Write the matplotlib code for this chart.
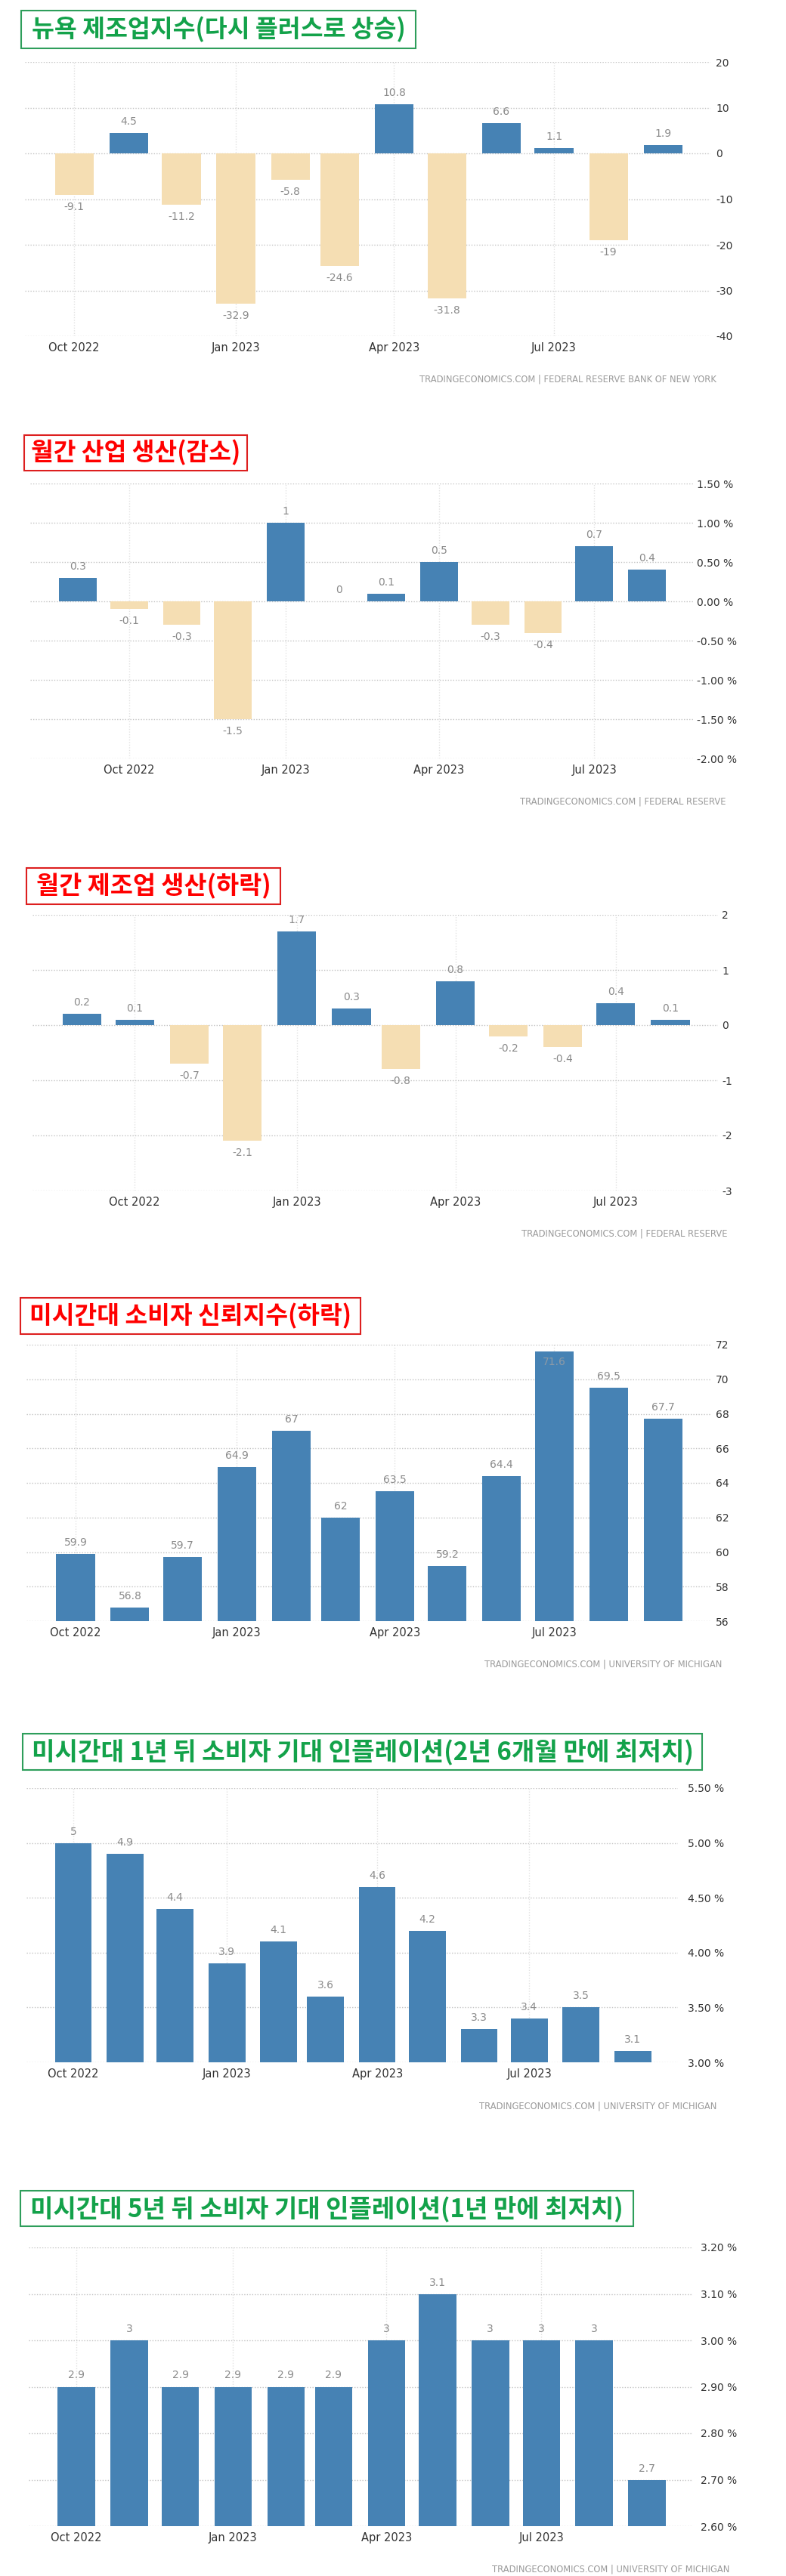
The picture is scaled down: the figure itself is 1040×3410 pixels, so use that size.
"""
plot.py

Six TradingEconomics-style bar panels (US manufacturing / Michigan survey),
stacked in one tall picture with Korean titles in coloured boxes.
"""

import numpy as np
import pandas as pd
import matplotlib
matplotlib.use("Agg")
import matplotlib.pyplot as plt
import matplotlib.dates as mdates
from matplotlib.patches import Rectangle


# ==========================================================
# DATA
# ==========================================================

MONTHS_OCT = ["2022-10", "2022-11", "2022-12", "2023-01", "2023-02", "2023-03",
              "2023-04", "2023-05", "2023-06", "2023-07", "2023-08", "2023-09"]
MONTHS_SEP = ["2022-09", "2022-10", "2022-11", "2022-12", "2023-01", "2023-02",
              "2023-03", "2023-04", "2023-05", "2023-06", "2023-07", "2023-08"]

NY_EMPIRE = [-9.1, 4.5, -11.2, -32.9, -5.8, -24.6, 10.8, -31.8, 6.6, 1.1, -19, 1.9]
IND_PROD = [0.3, -0.1, -0.3, -1.5, 1, 0, 0.1, 0.5, -0.3, -0.4, 0.7, 0.4]
MFG_PROD = [0.2, 0.1, -0.7, -2.1, 1.7, 0.3, -0.8, 0.8, -0.2, -0.4, 0.4, 0.1]
MICH_SENT = [59.9, 56.8, 59.7, 64.9, 67, 62, 63.5, 59.2, 64.4, 71.6, 69.5, 67.7]
MICH_INF_1Y = [5, 4.9, 4.4, 3.9, 4.1, 3.6, 4.6, 4.2, 3.3, 3.4, 3.5, 3.1]
MICH_INF_5Y = [2.9, 3, 2.9, 2.9, 2.9, 2.9, 3, 3.1, 3, 3, 3, 2.7]

TICKS_NY = [-40, -30, -20, -10, 0, 10, 20]
TICKS_IP = [-2.0, -1.5, -1.0, -0.5, 0.0, 0.5, 1.0, 1.5]
TICKS_MFG = [-3, -2, -1, 0, 1, 2]
TICKS_SENT = [56, 58, 60, 62, 64, 66, 68, 70, 72]
TICKS_1Y = [3.0, 3.5, 4.0, 4.5, 5.0, 5.5]
TICKS_5Y = [2.6, 2.7, 2.8, 2.9, 3.0, 3.1, 3.2]

X_TICK_DATES = ["2022-10-01", "2023-01-01", "2023-04-01", "2023-07-01"]
X_TICK_LABELS = ["Oct 2022", "Jan 2023", "Apr 2023", "Jul 2023"]

TITLES = [
    "뉴욕 제조업지수(다시 플러스로 상승)",
    "월간 산업 생산(감소)",
    "월간 제조업 생산(하락)",
    "미시간대 소비자 신뢰지수(하락)",
    "미시간대 1년 뒤 소비자 기대 인플레이션(2년 6개월 만에 최저치)",
    "미시간대 5년 뒤 소비자 기대 인플레이션(1년 만에 최저치)",
]
SOURCES = [
    "TRADINGECONOMICS.COM | FEDERAL RESERVE BANK OF NEW YORK",
    "TRADINGECONOMICS.COM | FEDERAL RESERVE",
    "TRADINGECONOMICS.COM | FEDERAL RESERVE",
    "TRADINGECONOMICS.COM | UNIVERSITY OF MICHIGAN",
    "TRADINGECONOMICS.COM | UNIVERSITY OF MICHIGAN",
    "TRADINGECONOMICS.COM | UNIVERSITY OF MICHIGAN",
]


# ==========================================================
# STYLE / LAYOUT (pixels)
# ==========================================================

W, H = 1040, 3410
BLUE = "#4682B4"
BEIGE = "#F5DEB3"
GREEN = "#13A24A"
GREEN_BOX = "#2E9E5B"
RED = "#FF0000"
RED_BOX = "#DD1F1F"
KR_FONT = ["Noto Sans CJK KR", "DejaVu Sans"]

PANELS = [
    dict(months=MONTHS_OCT, values=NY_EMPIRE, ticks=TICKS_NY, fmt="{:.0f}",
         ax=(33, 940, 82, 445), pad=5, box=(28, 550, 14, 64), text_w=494,
         colour=GREEN, box_colour=GREEN_BOX, src=(948, 502)),
    dict(months=MONTHS_SEP, values=IND_PROD, ticks=TICKS_IP, fmt="{:.2f} %",
         ax=(40, 917, 640, 1004), pad=3.6, box=(32, 327, 576, 623), text_w=276,
         colour=RED, box_colour=RED_BOX, src=(961, 1061)),
    dict(months=MONTHS_SEP, values=MFG_PROD, ticks=TICKS_MFG, fmt="{:.0f}",
         ax=(43, 950, 1211, 1576), pad=3.6, box=(35, 371, 1149, 1197), text_w=310,
         colour=RED, box_colour=RED_BOX, src=(963, 1633)),
    dict(months=MONTHS_OCT, values=MICH_SENT, ticks=TICKS_SENT, fmt="{:.0f}",
         ax=(35, 940, 1780, 2146), pad=5, box=(27, 477, 1718, 1766), text_w=425,
         colour=RED, box_colour=RED_BOX, src=(955, 2203)),
    dict(months=MONTHS_OCT, values=MICH_INF_1Y, ticks=TICKS_1Y, fmt="{:.2f} %",
         ax=(35, 897, 2367, 2730), pad=9, box=(30, 929, 2295, 2343), text_w=874,
         colour=GREEN, box_colour=GREEN_BOX, src=(948, 2788)),
    dict(months=MONTHS_OCT, values=MICH_INF_5Y, ticks=TICKS_5Y, fmt="{:.2f} %",
         ax=(38, 917, 2975, 3344), pad=7, box=(27, 838, 2900, 2947), text_w=784,
         colour=GREEN, box_colour=GREEN_BOX, src=(965, 3401)),
]


# ==========================================================
# DRAWING
# ==========================================================

def add_title(fig, title, p):
    x0, x1, y0, y1 = p["box"]
    fig.add_artist(Rectangle((x0 / W, 1 - y1 / H), (x1 - x0) / W, (y1 - y0) / H,
                             transform=fig.transFigure, fill=False,
                             edgecolor=p["box_colour"], linewidth=1.5))
    t = fig.text((x0 + x1) / 2 / W, 1 - (y0 + y1) / 2 / H, title,
                 ha="center", va="center", fontsize=20, fontweight="bold",
                 color=p["colour"], family=KR_FONT)
    # fit the title width to the box
    r = fig.canvas.get_renderer()
    w = t.get_window_extent(r).width
    t.set_fontsize(20 * p["text_w"] / w)


def draw_panel(fig, p, source):
    x0, x1, ytop, ybot = p["ax"]
    ax = fig.add_axes([x0 / W, 1 - ybot / H, (x1 - x0) / W, (ybot - ytop) / H])

    x = mdates.date2num(pd.to_datetime(p["months"]))
    vals = np.asarray(p["values"], dtype=float)
    colors = [BLUE if v >= 0 else BEIGE for v in vals]
    ax.bar(x, vals, width=22, color=colors, zorder=2)

    lo, hi = p["ticks"][0], p["ticks"][-1]
    ax.set_ylim(lo, hi)
    ax.set_xlim(x[0] - 28, x[-1] + 27)

    ax.set_yticks(p["ticks"])
    ax.set_yticklabels([p["fmt"].format(t) for t in p["ticks"]])
    ax.yaxis.tick_right()
    ax.tick_params(axis="y", length=0, pad=p["pad"], labelsize=10, labelcolor="#333333")

    ax.set_xticks(mdates.date2num(pd.to_datetime(X_TICK_DATES)))
    ax.set_xticklabels(X_TICK_LABELS)
    ax.tick_params(axis="x", length=0, pad=6, labelsize=10.5, labelcolor="#333333")

    ax.grid(axis="y", linestyle=(0, (1, 1.5)), color="#c4c4c4", linewidth=1, zorder=0)
    ax.grid(axis="x", linestyle=(0, (1, 1.5)), color="#e2e2e2", linewidth=1, zorder=0)
    for s in ax.spines.values():
        s.set_visible(False)

    # value labels
    px_per_unit = (ybot - ytop) / (hi - lo)
    for xi, v in zip(x, vals):
        txt = f"{v:g}"
        if v >= 0:
            if (hi - v) * px_per_unit < 12:
                ax.annotate(txt, (xi, v), xytext=(0, -7), textcoords="offset pixels",
                            ha="center", va="top", fontsize=10, color="#8e9aa6")
            else:
                ax.annotate(txt, (xi, v), xytext=(0, 8), textcoords="offset pixels",
                            ha="center", va="bottom", fontsize=10, color="#8a8a8a")
        else:
            ax.annotate(txt, (xi, v), xytext=(0, -9), textcoords="offset pixels",
                        ha="center", va="top", fontsize=10, color="#8a8a8a")

    sx, sy = p["src"]
    fig.text(sx / W, 1 - sy / H, source, ha="right", va="center",
             fontsize=8.3, color="#9a9a9a")


def main():
    fig = plt.figure(figsize=(W / 100, H / 100), dpi=100, facecolor="white")
    for p, title, source in zip(PANELS, TITLES, SOURCES):
        add_title(fig, title, p)
        draw_panel(fig, p, source)
    fig.savefig("out.png", dpi=100, facecolor="white")


if __name__ == "__main__":
    main()
